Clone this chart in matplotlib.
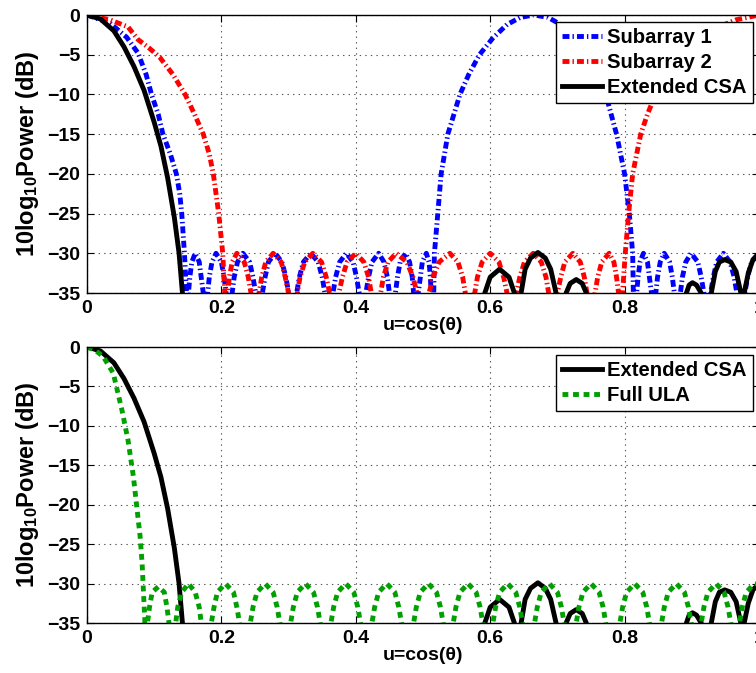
import matplotlib
matplotlib.use("Agg")
import matplotlib.pyplot as plt

plt.rcParams['font.family'] = ['Liberation Sans', 'DejaVu Sans']
plt.rcParams['font.weight'] = 'bold'
plt.rcParams['axes.labelweight'] = 'bold'
plt.rcParams['mathtext.fontset'] = 'custom'
plt.rcParams['mathtext.rm'] = 'Liberation Sans:bold'
plt.rcParams['mathtext.default'] = 'rm'
plt.rcParams['lines.scale_dashes'] = False

# ---- data (u = cos(theta), dB) ----
# -45 marks nulls that fall below the -35 dB floor of the axes
u_csa = [0.0, 0.02, 0.04, 0.055, 0.07, 0.085, 0.10, 0.11, 0.12, 0.13, 0.137, 0.142, 0.145,
         0.586, 0.592, 0.600, 0.614, 0.628, 0.636, 0.641,
         0.646, 0.652, 0.660, 0.671, 0.682, 0.690, 0.698, 0.705,
         0.713, 0.719, 0.728, 0.737, 0.743, 0.748,
         0.887, 0.892, 0.896, 0.901, 0.907, 0.914, 0.920,
         0.929, 0.935, 0.941, 0.949, 0.958, 0.966, 0.973, 0.976,
         0.978, 0.984, 0.991, 1.0]
db_csa = [0.0, -0.5, -2.0, -4.0, -6.5, -9.5, -13.5, -16.5, -20.5, -25.5, -30.0, -35.0, -45,
          -45, -35.0, -33.0, -32.0, -33.0, -35.0, -45,
          -35.0, -32.0, -30.6, -29.9, -30.6, -32.0, -35.0, -45,
          -35.0, -33.8, -33.3, -33.8, -35.0, -45,
          -45, -35.0, -34.0, -33.7, -34.0, -35.0, -45,
          -35.0, -32.3, -31.1, -30.8, -31.1, -32.3, -35.0, -45,
          -35.0, -32.5, -30.8, -30.0]

u_sub1 = [0.0, 0.034, 0.059, 0.076, 0.088, 0.096, 0.106, 0.113, 0.124, 0.133, 0.138, 0.141, 0.145, 0.148,
          0.151, 0.153, 0.156, 0.161, 0.167, 0.170, 0.173, 0.176,
          0.1795, 0.182, 0.186, 0.192, 0.200, 0.204, 0.207, 0.211,
          0.216, 0.219, 0.224, 0.232, 0.242, 0.247, 0.251, 0.256,
          0.261, 0.265, 0.270, 0.280, 0.290, 0.296, 0.300, 0.306,
          0.312, 0.316, 0.322, 0.333, 0.344, 0.350, 0.354, 0.360,
          0.366, 0.370, 0.376, 0.386, 0.396, 0.401, 0.405, 0.410,
          0.415, 0.419, 0.424, 0.434, 0.442, 0.447, 0.450, 0.455,
          0.459, 0.462, 0.466, 0.474, 0.480, 0.484, 0.486, 0.490,
          0.493, 0.496, 0.499, 0.505, 0.509, 0.511, 0.512, 0.514,
          0.516, 0.517, 0.522, 0.527, 0.537, 0.555, 0.568, 0.584, 0.604, 0.625, 0.645, 0.665,
          0.686, 0.705, 0.726, 0.746, 0.760, 0.772, 0.788, 0.800, 0.807, 0.812, 0.815,
          0.818, 0.820, 0.823, 0.828, 0.834, 0.837, 0.840, 0.843,
          0.8465, 0.849, 0.853, 0.859, 0.867, 0.871, 0.874, 0.878,
          0.883, 0.886, 0.891, 0.899, 0.909, 0.914, 0.918, 0.923,
          0.928, 0.932, 0.937, 0.947, 0.957, 0.963, 0.967, 0.973,
          0.979, 0.983, 0.989, 1.0]
db_sub1 = [0.0, -1.0, -2.8, -4.8, -7.5, -10.0, -12.5, -15.0, -17.5, -20.0, -22.5, -25.0, -30.0, -35.0,
           -35, -33, -31.1, -30, -31.1, -33, -35, -45,
           -35, -33, -31.1, -30, -31.1, -33, -35, -45,
           -35, -33, -31.1, -30, -31.1, -33, -35, -45,
           -35, -33, -31.1, -30, -31.1, -33, -35, -45,
           -35, -33, -31.1, -30, -31.1, -33, -35, -45,
           -35, -33, -31.1, -30, -31.1, -33, -35, -45,
           -35, -33, -31.1, -30, -31.1, -33, -35, -45,
           -35, -33, -31.1, -30, -31.1, -33, -35, -45,
           -35, -33, -31.1, -30, -31.1, -33, -35, -45,
           -35.0, -30.0, -25.0, -20.0, -15.0, -10.0, -7.5, -5.0, -2.9, -1.2, -0.3, 0.0,
           -0.3, -1.2, -2.9, -5.0, -7.5, -10.0, -15.0, -20.0, -25.0, -30.0, -45,
           -35, -33, -31.1, -30, -31.1, -33, -35, -45,
           -35, -33, -31.1, -30, -31.1, -33, -35, -45,
           -35, -33, -31.1, -30, -31.1, -33, -35, -45,
           -35, -33, -31.1, -30, -31.1, -33, -35, -45,
           -35, -33, -31.1, -30]

u_sub2 = [0.0, 0.034, 0.061, 0.076, 0.093, 0.108, 0.128, 0.146, 0.160, 0.173, 0.182, 0.188, 0.196, 0.202, 0.205,
          0.209, 0.212, 0.216, 0.223, 0.234, 0.240, 0.244, 0.250,
          0.256, 0.260, 0.266, 0.277, 0.289, 0.295, 0.300, 0.306,
          0.313, 0.317, 0.324, 0.336, 0.349, 0.356, 0.361, 0.368,
          0.375, 0.380, 0.387, 0.400, 0.412, 0.419, 0.423, 0.430,
          0.437, 0.441, 0.448, 0.460, 0.476, 0.485, 0.491, 0.500,
          0.509, 0.515, 0.524, 0.540, 0.552, 0.559, 0.563, 0.570,
          0.577, 0.581, 0.588, 0.600, 0.613, 0.620, 0.625, 0.632,
          0.639, 0.644, 0.651, 0.664, 0.676, 0.683, 0.687, 0.694,
          0.700, 0.705, 0.711, 0.723, 0.734, 0.740, 0.744, 0.750,
          0.756, 0.760, 0.766, 0.777, 0.784, 0.788, 0.791, 0.795,
          0.797, 0.801, 0.806, 0.812, 0.818, 0.824, 0.834, 0.846, 0.866, 0.890, 0.907, 0.922, 0.940, 0.966, 1.0]
db_sub2 = [0.0, -0.6, -1.5, -3.1, -4.2, -5.3, -7.5, -10.0, -12.5, -15.0, -17.5, -20.0, -25.0, -30.0, -35.0,
           -35, -33, -31.1, -30, -31.1, -33, -35, -45,
           -35, -33, -31.1, -30, -31.1, -33, -35, -45,
           -35, -33, -31.1, -30, -31.1, -33, -35, -45,
           -35, -33, -31.1, -30, -31.1, -33, -35, -45,
           -35, -33, -31.1, -30, -31.1, -33, -35, -45,
           -35, -33, -31.1, -30, -31.1, -33, -35, -45,
           -35, -33, -31.1, -30, -31.1, -33, -35, -45,
           -35, -33, -31.1, -30, -31.1, -33, -35, -45,
           -35, -33, -31.1, -30, -31.1, -33, -35, -45,
           -35, -33, -31.1, -30, -31.1, -33, -35, -45,
           -35.0, -30.0, -25.0, -20.0, -17.5, -15.0, -12.5, -10.0, -7.5, -5.3, -4.2, -3.1, -1.5, -0.6, 0.0]

u_ula = [0.0, 0.012, 0.024, 0.039, 0.052, 0.061, 0.069, 0.074, 0.079, 0.082, 0.084, 0.086, 0.088,
         0.090, 0.093, 0.097, 0.106, 0.115, 0.119, 0.122, 0.128,
         0.132, 0.135, 0.141, 0.151, 0.161, 0.167, 0.170, 0.178,
         0.185, 0.189, 0.194, 0.206, 0.218, 0.223, 0.227, 0.236,
         0.243, 0.247, 0.253, 0.265, 0.277, 0.283, 0.287, 0.295,
         0.303, 0.307, 0.313, 0.325, 0.337, 0.343, 0.347, 0.355,
         0.363, 0.367, 0.373, 0.385, 0.397, 0.403, 0.407, 0.415,
         0.424, 0.428, 0.434, 0.446, 0.458, 0.464, 0.468, 0.477,
         0.486, 0.490, 0.496, 0.508, 0.520, 0.526, 0.530, 0.537,
         0.545, 0.549, 0.555, 0.567, 0.579, 0.585, 0.589, 0.597,
         0.604, 0.608, 0.614, 0.626, 0.638, 0.644, 0.648, 0.657,
         0.666, 0.670, 0.676, 0.688, 0.700, 0.706, 0.710, 0.719,
         0.728, 0.732, 0.738, 0.750, 0.762, 0.768, 0.772, 0.782,
         0.793, 0.797, 0.803, 0.815, 0.827, 0.833, 0.837, 0.846,
         0.855, 0.859, 0.865, 0.877, 0.889, 0.895, 0.899, 0.906,
         0.914, 0.918, 0.924, 0.936, 0.948, 0.954, 0.958, 0.966,
         0.971, 0.975, 0.981, 0.993, 1.0]
db_ula = [0.0, -0.4, -1.2, -3.3, -8.0, -11.8, -16.4, -20.2, -24.0, -27.4, -31.0, -34.6, -45,
          -35, -33, -31.1, -30.4, -31.1, -33, -35, -45,
          -35, -33, -31.1, -30, -31.1, -33, -35, -45,
          -35, -33, -31.1, -30, -31.1, -33, -35, -45,
          -35, -33, -31.1, -30, -31.1, -33, -35, -45,
          -35, -33, -31.1, -30, -31.1, -33, -35, -45,
          -35, -33, -31.1, -30, -31.1, -33, -35, -45,
          -35, -33, -31.1, -30, -31.1, -33, -35, -45,
          -35, -33, -31.1, -30, -31.1, -33, -35, -45,
          -35, -33, -31.1, -30, -31.1, -33, -35, -45,
          -35, -33, -31.1, -30, -31.1, -33, -35, -45,
          -35, -33, -31.1, -30, -31.1, -33, -35, -45,
          -35, -33, -31.1, -30, -31.1, -33, -35, -45,
          -35, -33, -31.1, -30, -31.1, -33, -35, -45,
          -35, -33, -31.1, -30, -31.1, -33, -35, -45,
          -35, -33, -31.1, -30, -31.1, -33, -35, -45,
          -35, -33, -31.1, -30, -30.1]

fig = plt.figure(figsize=(7.56, 6.73), dpi=100)
W, H = 756.0, 673.0
ax1 = fig.add_axes([87 / W, (H - 293) / H, 672 / W, 278 / H])
ax2 = fig.add_axes([87 / W, (H - 623) / H, 672 / W, 276 / H])

lw = 3.5
ax1.plot(u_sub1, db_sub1, color='b', lw=lw, dashes=(5, 2.2, 1, 2.2), label='Subarray 1')
ax1.plot(u_sub2, db_sub2, color='r', lw=lw, dashes=(5, 2.2, 1, 2.2), label='Subarray 2')
ax1.plot(u_csa, db_csa, color='k', lw=lw, label='Extended CSA')

ax2.plot(u_csa, db_csa, color='k', lw=lw, label='Extended CSA')
ax2.plot(u_ula, db_ula, color='#00a000', lw=lw, dashes=(4.2, 3.4), label='Full ULA')

for ax in (ax1, ax2):
    ax.set_xlim(0, 1)
    ax.set_ylim(-35, 0)
    ax.set_xticks([0, 0.2, 0.4, 0.6, 0.8, 1])
    ax.set_xticklabels(['0', '0.2', '0.4', '0.6', '0.8', '1'])
    ax.set_yticks(range(-35, 1, 5))
    ax.tick_params(direction='in', length=5, width=0.8, top=True, right=True,
                   labelsize=14, pad=5)
    ax.grid(True, linestyle=(0, (1, 3)), color='0.35', linewidth=0.8)
    for s in ax.spines.values():
        s.set_linewidth(1.0)
    ax.set_xlabel('u=cos(θ)', fontsize=14, labelpad=0)
    ax.set_ylabel('10log$_{10}$Power (dB)', fontsize=17, labelpad=4)

leg_kw = dict(loc='upper right', bbox_transform=fig.transFigure, borderaxespad=0,
              fancybox=False, edgecolor='k', framealpha=1, fontsize=14.6,
              handlelength=2.0, handletextpad=0.25, labelspacing=0.3,
              borderpad=0.3)
l1 = ax1.legend(bbox_to_anchor=(753 / W, 1 - 22 / H), **leg_kw)
l2 = ax2.legend(bbox_to_anchor=(753 / W, 1 - 355 / H), **leg_kw)
for lg in (l1, l2):
    lg.get_frame().set_linewidth(1.0)
    for t in lg.get_texts():
        t.set_fontweight('bold')

fig.savefig('out.png', dpi=100)
